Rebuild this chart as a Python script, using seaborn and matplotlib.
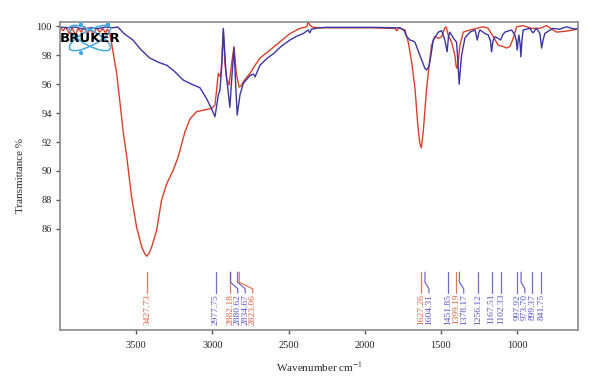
import numpy as np
import matplotlib
matplotlib.use("Agg")
import matplotlib.pyplot as plt
import seaborn as sns
from matplotlib.patches import Ellipse, Circle

# FTIR spectra (wavenumber cm-1, transmittance %)
blue_wn = [4000, 3950, 3900, 3850, 3800, 3750, 3700, 3660, 3620, 3580, 3521, 3470, 3410, 3350,
           3298, 3250, 3193, 3147, 3081, 3038, 3005, 2983, 2970, 2961, 2950, 2940, 2928, 2911,
           2885, 2872, 2858, 2847, 2837, 2819, 2797, 2753, 2730, 2720, 2700, 2688, 2640, 2600,
           2550, 2491, 2450, 2404, 2371, 2360, 2350, 2300, 2250, 2100, 1950, 1800, 1769, 1740,
           1725, 1703, 1685, 1670, 1638, 1605, 1594, 1580, 1572, 1550, 1517, 1495, 1474, 1459,
           1450, 1441, 1419, 1397, 1388, 1380, 1370, 1364, 1342, 1309, 1276, 1261, 1250, 1243,
           1211, 1189, 1175, 1167, 1158, 1145, 1124, 1108, 1095, 1080, 1036, 1014, 1005, 999,
           993, 988, 980, 975, 968, 960, 916, 900, 894, 885, 872, 850, 839, 830, 818, 790, 763,
           720, 675, 640, 610, 600]
blue_t = [99.95, 99.9, 99.95, 99.8, 99.9, 99.85, 99.95, 99.9, 99.95, 99.5, 99.05, 98.4, 97.8, 97.5,
          97.3, 96.9, 96.3, 96.05, 95.75, 95.0, 94.3, 93.75, 94.6, 95.25, 95.6, 97.0, 99.86, 96.9,
          94.4, 96.5, 98.5, 96.0, 93.86, 95.25, 96.05, 96.6, 96.7, 96.5, 97.0, 97.3, 97.8, 98.1,
          98.6, 99.05, 99.3, 99.5, 99.75, 99.55, 99.8, 99.9, 99.93, 99.93, 99.93, 99.9, 99.9, 99.7,
          99.3, 99.05, 99.0, 98.9, 98.0, 97.1, 96.98, 97.2, 97.55, 99.05, 99.6, 99.7, 99.05, 98.24,
          99.3, 99.6, 99.2, 98.9, 97.5, 96.0, 97.3, 98.0, 99.2, 99.6, 99.75, 99.05, 99.6, 99.75,
          99.5, 99.4, 99.0, 98.24, 99.0, 99.28, 99.17, 99.05, 99.4, 99.6, 99.75, 99.4, 99.0, 98.36,
          99.0, 99.4, 98.8, 97.9, 99.0, 99.75, 99.86, 99.6, 99.55, 99.7, 99.86, 99.5, 98.5, 99.0,
          99.5, 99.7, 99.86, 99.8, 99.97, 99.85, 99.8, 99.9]

red_wn = [4000, 3980, 3960, 3940, 3920, 3900, 3880, 3860, 3840, 3820, 3800, 3780, 3760, 3740,
          3720, 3700, 3690, 3675, 3661, 3645, 3628, 3605, 3585, 3562, 3530, 3497, 3464, 3445,
          3431, 3415, 3398, 3366, 3333, 3300, 3257, 3224, 3180, 3147, 3103, 3060, 3005, 2983,
          2972, 2961, 2946, 2938, 2928, 2918, 2907, 2890, 2875, 2858, 2850, 2841, 2824, 2810,
          2797, 2753, 2720, 2688, 2622, 2556, 2491, 2425, 2381, 2371, 2360, 2345, 2300, 2100,
          1950, 1800, 1790, 1775, 1750, 1736, 1714, 1692, 1670, 1650, 1638, 1628, 1615, 1594,
          1577, 1561, 1539, 1517, 1495, 1474, 1465, 1452, 1430, 1408, 1399, 1393, 1385, 1375,
          1353, 1309, 1265, 1222, 1189, 1156, 1124, 1091, 1069, 1047, 1025, 1003, 960, 905,
          850, 806, 741, 675, 630, 600]
red_t = [99.9, 99.7, 99.95, 99.5, 99.9, 99.4, 99.85, 99.6, 100.0, 99.5, 99.8, 99.45, 99.9, 99.6,
         99.85, 99.55, 99.8, 99.6, 98.8, 97.8, 96.75, 94.6, 92.7, 90.98, 88.2, 86.1, 84.75, 84.3,
         84.1, 84.3, 84.75, 85.9, 88.0, 89.1, 90.05, 90.98, 92.7, 93.6, 94.1, 94.2, 94.33, 94.55,
         95.6, 96.75, 96.5, 97.5, 99.7, 97.5, 96.4, 95.94, 97.3, 98.6, 97.6, 96.63, 95.8, 95.9,
         96.17, 96.75, 97.3, 97.8, 98.36, 98.93, 99.5, 99.86, 99.97, 100.3, 100.1, 99.95, 99.9, 99.9,
         99.9, 99.85, 99.7, 99.9, 99.8, 99.75, 98.9, 97.55, 95.7, 93.0, 91.9, 91.6, 92.8, 95.7,
         97.3, 98.7, 99.3, 99.17, 99.28, 99.9, 99.95, 99.4, 98.9, 98.0, 97.2, 97.1, 97.6, 98.7,
         99.6, 99.75, 99.86, 99.97, 99.86, 99.28, 98.7, 98.6, 98.5, 98.6, 99.17, 99.97, 100.05, 99.86,
         99.86, 100.05, 99.6, 99.67, 99.75, 99.86]

# peak picks printed under the spectra
red_peaks = [3427.73, 2882.18, 2823.06, 1627.26, 1399.19]
blue_peaks = [2977.75, 2880.62, 2834.67, 1604.31, 1451.85, 1378.17, 1256.12,
              1167.51, 1102.33, 997.92, 973.70, 899.37, 841.75]

y_ticks = [86, 88, 90, 92, 94, 96, 98, 100]
x_ticks = [3500, 3000, 2500, 2000, 1500, 1000]

red_col = "#d9402a"
blue_col = "#3b36a3"
red_lbl = "#e0603c"
blue_lbl = "#5752c2"

sns.set_style("ticks")
plt.rcParams['font.family'] = ['Liberation Serif', 'DejaVu Serif']
plt.rcParams['mathtext.fontset'] = 'stix'

fig = plt.figure(figsize=(6, 3.89), dpi=100)
ax = fig.add_axes([60 / 600, 1 - 330 / 389, 518 / 600, 308 / 389])

sns.lineplot(x=red_wn, y=red_t, sort=False, estimator=None, color=red_col, lw=1.0, ax=ax)
sns.lineplot(x=blue_wn, y=blue_t, sort=False, estimator=None, color=blue_col, lw=1.0, ax=ax)

ax.set_xlim(4000, 600)
ax.set_ylim(79.0, 100.3)
ax.set_xticks(x_ticks)
ax.set_yticks(y_ticks)
ax.tick_params(direction='out', length=3, width=1, color='#555555', labelsize=7.5)
ax.tick_params(axis='x', pad=5)
ax.tick_params(axis='y', pad=3)
for s in ax.spines.values():
    s.set_color('#8a8a8a')
    s.set_linewidth(1.2)

ax.set_xlabel(r"Wavenumber cm$^{-1}$", fontsize=8, labelpad=7)
ax.set_ylabel("Transmittance %", fontsize=8, labelpad=8)

# peak labels with leader lines, spread so they don't overlap
peaks = [(p, red_lbl) for p in red_peaks] + [(p, blue_lbl) for p in blue_peaks]
peaks.sort(key=lambda t: -t[0])
prev = None
for p, c in peaks:
    pos = p if prev is None else min(p, prev - 49)
    prev = pos
    ax.plot([p, p, pos, pos], [83.0, 82.3, 81.85, 81.55], color=c, lw=0.9, alpha=0.85)
    ax.text(pos, 81.5, f"{p:.2f}", rotation=90, ha='center', va='top',
            fontsize=6.8, color=c)

# Bruker logo
lg = fig.add_axes([60 / 600, 1 - 60 / 389, 65 / 600, 40 / 389])
lg.set_xlim(0, 65)
lg.set_ylim(40, 0)
lg.axis('off')
lg.patch.set_alpha(0)
for ang in (28, -28):
    lg.add_patch(Ellipse((30, 18), 46, 15, angle=ang, fill=False, ec='#45a8dc', lw=1.1))
for cx, cy in [(21, 4.5), (21, 33), (48, 4.5)]:
    lg.add_patch(Circle((cx, cy), 1.4, color='#45a8dc'))
lg.text(30, 19, "BRUKER", ha='center', va='center', fontsize=9.5, fontweight='bold',
        family='DejaVu Sans', color='black')

fig.savefig("out.png", dpi=100)
